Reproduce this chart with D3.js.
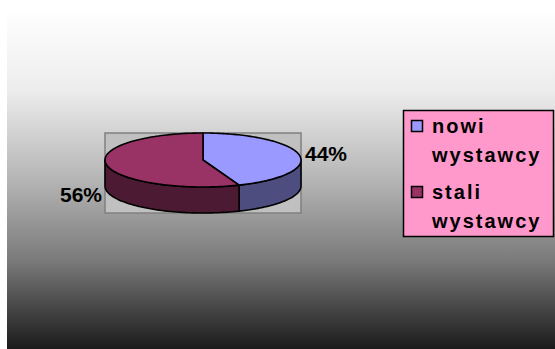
<!DOCTYPE html>
<html><head><meta charset="utf-8">
<script src="https://cdn.jsdelivr.net/npm/d3@7"></script>
<style>html,body{margin:0;padding:0;background:#fff;}svg{display:block;}</style>
</head><body>
<svg id="c" width="555" height="349"></svg>
<script>
const categories = ["nowi wystawcy", "stali wystawcy"];
const legendLines = [["nowi", "wystawcy"], ["stali", "wystawcy"]];
const values = [44, 56];
const labels = ["44%", "56%"];
const topColors = ["#9999FF", "#993366"];
const sideColors = ["#4D4D80", "#4D1A33"];

const svg = d3.select("#c");
const W = 555, H = 349;
const font = "'Liberation Sans', Arial, sans-serif";

// background gradient
const defs = svg.append("defs");
const g = defs.append("linearGradient").attr("id","bg").attr("x1",0).attr("y1",0).attr("x2",0).attr("y2",1);
[[0,"#ffffff"],[0.24,"#ececec"],[0.5,"#b5b5b5"],[0.74,"#7a7a7a"],[1,"#1a1a1a"]]
  .forEach(([o,c])=>g.append("stop").attr("offset",o).attr("stop-color",c));
svg.append("rect").attr("x",7).attr("y",10).attr("width",W-7).attr("height",H-10).attr("fill","url(#bg)");

// pie geometry
const cx = 203, cy = 160, rx = 98, ry = 27, depth = 26;
svg.append("rect").attr("x",cx-rx).attr("y",cy-ry).attr("width",2*rx).attr("height",2*ry+depth)
  .attr("fill","#c0c0c0").attr("stroke","#808080").attr("stroke-width",1.5);

const pie = d3.pie().sort(null).value(d=>d);
const arcs = pie(values);
const pt = (a, dy=0) => [cx + rx*Math.sin(a), cy - ry*Math.cos(a) + dy];

function ellArc(a0, a1, dy, steps) {
  const pts = [];
  for (let i=0;i<=steps;i++){ const a = a0 + (a1-a0)*i/steps; pts.push(pt(a,dy)); }
  return pts;
}

// sides (front half: angle between PI/2 and 3PI/2)
arcs.forEach((d,i)=>{
  const s = Math.max(d.startAngle, Math.PI/2), e = Math.min(d.endAngle, 3*Math.PI/2);
  if (e <= s) return;
  const top = ellArc(s, e, 0, 60);
  const bot = ellArc(e, s, depth, 60);
  svg.append("path").attr("d", d3.line()(top.concat(bot)) + "Z")
    .attr("fill", sideColors[i]).attr("stroke","#000").attr("stroke-width",1.6).attr("stroke-linejoin","round");
});

// tops
arcs.forEach((d,i)=>{
  const pts = [[cx,cy]].concat(ellArc(d.startAngle, d.endAngle, 0, 120));
  svg.append("path").attr("d", d3.line()(pts) + "Z")
    .attr("fill", topColors[i]).attr("stroke","#000").attr("stroke-width",1.6).attr("stroke-linejoin","round");
});

// data labels
svg.append("text").attr("x",305).attr("y",161).attr("font-family",font).attr("font-weight","bold")
  .attr("font-size",21).attr("fill","#000").text(labels[0]);
svg.append("text").attr("x",102).attr("y",202).attr("text-anchor","end").attr("font-family",font).attr("font-weight","bold")
  .attr("font-size",21).attr("fill","#000").text(labels[1]);

// legend
const lg = svg.append("g");
lg.append("rect").attr("x",403.5).attr("y",110.5).attr("width",150).attr("height",126)
  .attr("fill","#FF99CC").attr("stroke","#000").attr("stroke-width",1.5);
categories.forEach((c,i)=>{
  const y0 = 133 + i*66;
  lg.append("rect").attr("x",411.5).attr("y",y0-12.5).attr("width",11).attr("height",11)
    .attr("fill",topColors[i]).attr("stroke","#000").attr("stroke-width",1.5);
  legendLines[i].forEach((t,j)=>{
    lg.append("text").attr("x",432).attr("y",y0 + j*28.5).attr("font-family",font).attr("font-weight","bold")
      .attr("font-size",20).attr("letter-spacing",2).attr("fill","#000").text(t);
  });
});
</script>
</body></html>
